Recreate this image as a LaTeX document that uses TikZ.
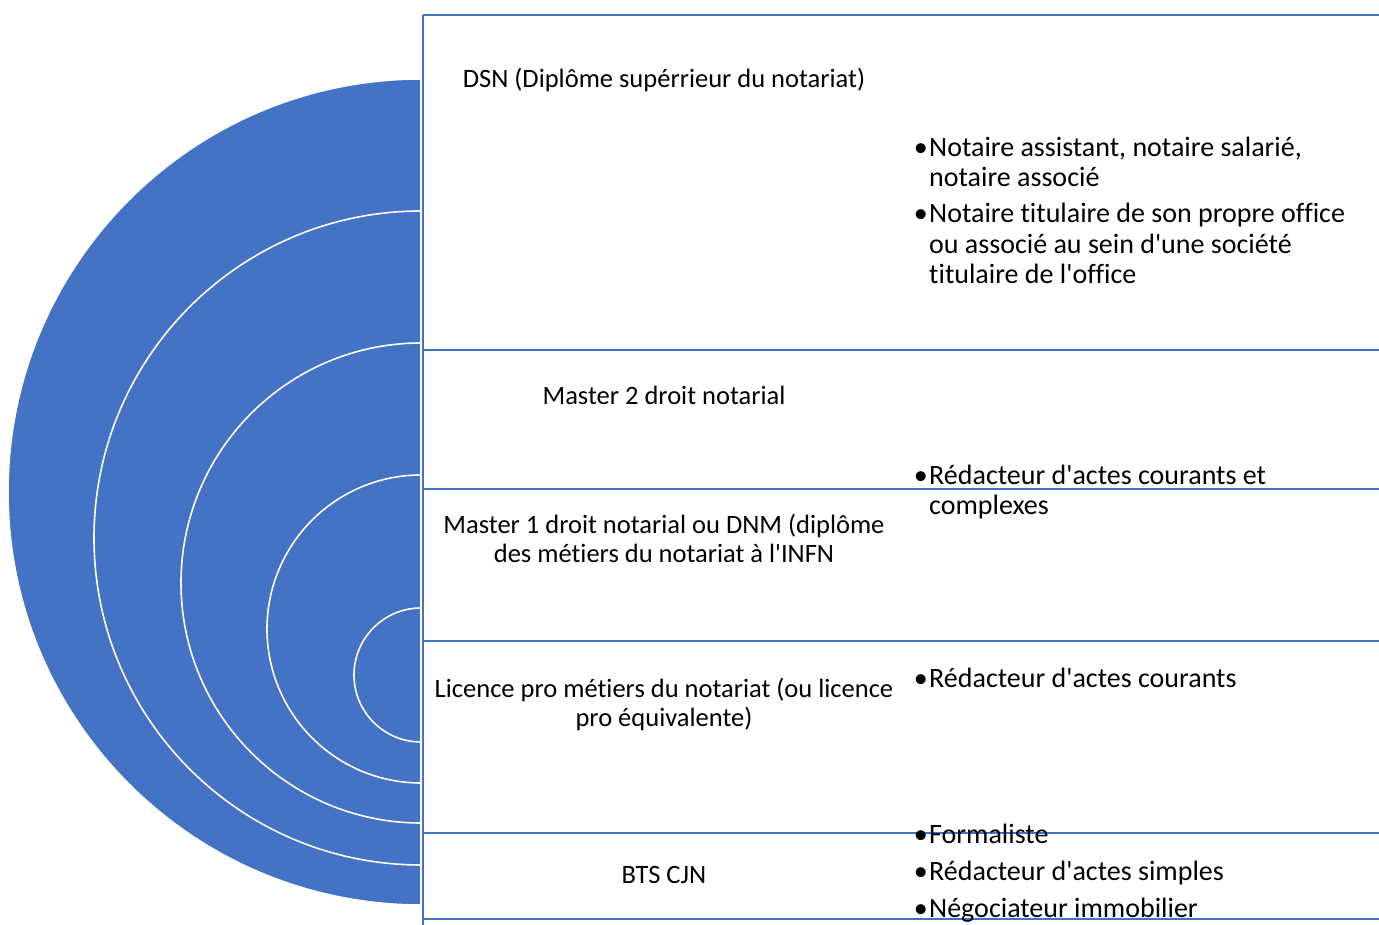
\documentclass[tikz,border=0pt]{standalone}
\usepackage{fontspec}
\setmainfont{Carlito}[Ligatures={NoCommon}]
\definecolor{accblue}{HTML}{4472C4}
\tikzset{
  ring/.style={fill=accblue, draw=white, line width=1.6pt},
  rowline/.style={draw=accblue, line width=2pt},
  lefttext/.style={font=\fontsize{26.5}{29.5}\selectfont, align=center, anchor=base, inner sep=0pt},
  righttext/.style={font=\fontsize{28}{30.8}\selectfont, align=left, anchor=base west, inner sep=0pt},
}
\newcommand{\bul}{\llap{\textbullet\hspace{1.5pt}}}
\newcommand{\ap}{\textquotesingle}
\begin{document}
\begin{tikzpicture}[x=1pt,y=1pt]
\useasboundingbox (0,0) rectangle (1379,925);
% half disks, outer to inner
\path[ring] (421,846) arc[start angle=90, end angle=270, radius=413] -- cycle;
\path[ring] (421,714) arc[start angle=90, end angle=270, radius=327] -- cycle;
\path[ring] (421,582) arc[start angle=90, end angle=270, radius=240] -- cycle;
\path[ring] (421,450) arc[start angle=90, end angle=270, radius=154] -- cycle;
\path[ring] (421,317) arc[start angle=90, end angle=270, radius=67] -- cycle;
% row frame
\coordinate (vtop) at (422.5,910);
\coordinate (vbot) at (422.5,0);
\draw[rowline] (vtop) -- (vbot);
\coordinate (h1a) at (422.5,910); \coordinate (h1b) at (1379,910);
\coordinate (h2a) at (424,575); \coordinate (h2b) at (1379,575);
\coordinate (h3a) at (424,436); \coordinate (h3b) at (1379,436);
\coordinate (h4a) at (424,284); \coordinate (h4b) at (1379,284);
\coordinate (h5a) at (424,92); \coordinate (h5b) at (1379,92);
\coordinate (h6a) at (424,6); \coordinate (h6b) at (1379,6);
\draw[rowline] (h1a) -- (h1b);
\draw[rowline] (h2a) -- (h2b);
\draw[rowline] (h3a) -- (h3b);
\draw[rowline] (h4a) -- (h4b);
\draw[rowline] (h5a) -- (h5b);
\draw[rowline] (h6a) -- (h6b);
% left texts (anchor = baseline of last line)
\node[lefttext] (dsn) at (664,837) {DSN (Diplôme supérrieur du notariat)};
\node[lefttext] (m2) at (664,520) {Master 2 droit notarial};
\node[lefttext] (m1) at (664,362) {Master 1 droit notarial ou DNM (diplôme\\des métiers du notariat à l\ap INFN};
\node[lefttext] (lp) at (664,198) {Licence pro métiers du notariat (ou licence\\pro équivalente)};
\node[lefttext] (bts) at (664,41) {BTS CJN};
% right texts (anchor = baseline of last line)
\node[righttext] (r1) at (929,738) {\bul Notaire assistant, notaire salarié,\\notaire associé};
\node[righttext] (r2) at (929,641) {\bul Notaire titulaire de son propre office\\ou associé au sein d\ap une société\\titulaire de l\ap office};
\node[righttext] (r3) at (929,410) {\bul Rédacteur d\ap actes courants et\\complexes};
\node[righttext] (r4) at (929,237) {\bul Rédacteur d\ap actes courants};
\node[righttext] (r5) at (929,81) {\bul Formaliste};
\node[righttext] (r6) at (929,44) {\bul Rédacteur d\ap actes simples};
\node[righttext] (r7) at (929,7) {\bul Négociateur immobilier};
\end{tikzpicture}
\end{document}
